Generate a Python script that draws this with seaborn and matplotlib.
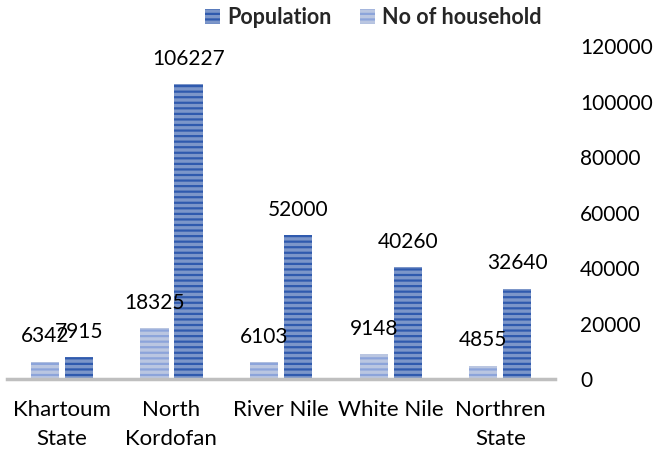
import matplotlib
matplotlib.use("Agg")
import matplotlib.pyplot as plt
import seaborn as sns
import pandas as pd

categories = ["Khartoum\nState", "North\nKordofan", "River Nile", "White Nile", "Northren\nState"]
households = [6342, 18325, 6103, 9148, 4855]
population = [7915, 106227, 52000, 40260, 32640]
series_names = ["No of household", "Population"]
yticks = [0, 20000, 40000, 60000, 80000, 100000, 120000]

sns.set_theme(style="white")
plt.rcParams['font.family'] = ['Lato', 'DejaVu Sans']
plt.rcParams['hatch.linewidth'] = 1.6

df = pd.DataFrame({
    "cat": categories * 2,
    "series": [series_names[0]] * len(categories) + [series_names[1]] * len(categories),
    "value": households + population,
})

fig = plt.figure(figsize=(6.64, 4.53), dpi=100)
ax = fig.add_axes([0.0105, 0.163, 0.8255, 0.735])

face = {series_names[0]: "#B3C3E8", series_names[1]: "#6F92D6"}
hatchc = {series_names[0]: "#8CA4DA", series_names[1]: "#2F5AAE"}

sns.barplot(data=df, x="cat", y="value", hue="series", hue_order=series_names,
            order=categories, palette=face, width=0.62, gap=0.17, ax=ax,
            linewidth=0, legend=True)

for container, name in zip(ax.containers, series_names):
    for bar in container:
        bar.set_hatch("---")
        bar.set_edgecolor(hatchc[name])
        bar.set_linewidth(0)
    ax.bar_label(container, labels=[str(int(v)) for v in container.datavalues],
                 padding=11, fontsize=15, color="#000000")

ax.set_xlim(-0.5, 4.5)
ax.set_ylim(0, 120000)
ax.set_yticks(yticks)
ax.set_yticklabels([str(t) for t in yticks])
ax.yaxis.tick_right()
ax.tick_params(axis="y", length=0, pad=18, labelsize=15, labelcolor="#000000")
ax.tick_params(axis="x", length=0, pad=15, labelsize=16, labelcolor="#000000")
for t in ax.get_xticklabels():
    t.set_linespacing(1.55)
ax.set_xlabel("")
ax.set_ylabel("")
for s in ["top", "left", "right"]:
    ax.spines[s].set_visible(False)
ax.spines["bottom"].set_color("#BFBFBF")
ax.spines["bottom"].set_linewidth(2.5)

handles, labels = ax.get_legend_handles_labels()
order = [1, 0]
leg = ax.legend([handles[i] for i in order], [labels[i] for i in order],
                loc="center", bbox_to_anchor=(0.562, 0.962), bbox_transform=fig.transFigure,
                ncol=2, frameon=False, fontsize=15.5, handlelength=0.7, handleheight=0.7,
                handletextpad=0.35, columnspacing=1.3, borderpad=0)
for t in leg.get_texts():
    t.set_fontweight("bold")
for h, name in zip(leg.legend_handles, [series_names[i] for i in order]):
    h.set_hatch("---")
    h.set_edgecolor(hatchc[name])
    h.set_linewidth(0)

fig.savefig("out.png", dpi=100)
